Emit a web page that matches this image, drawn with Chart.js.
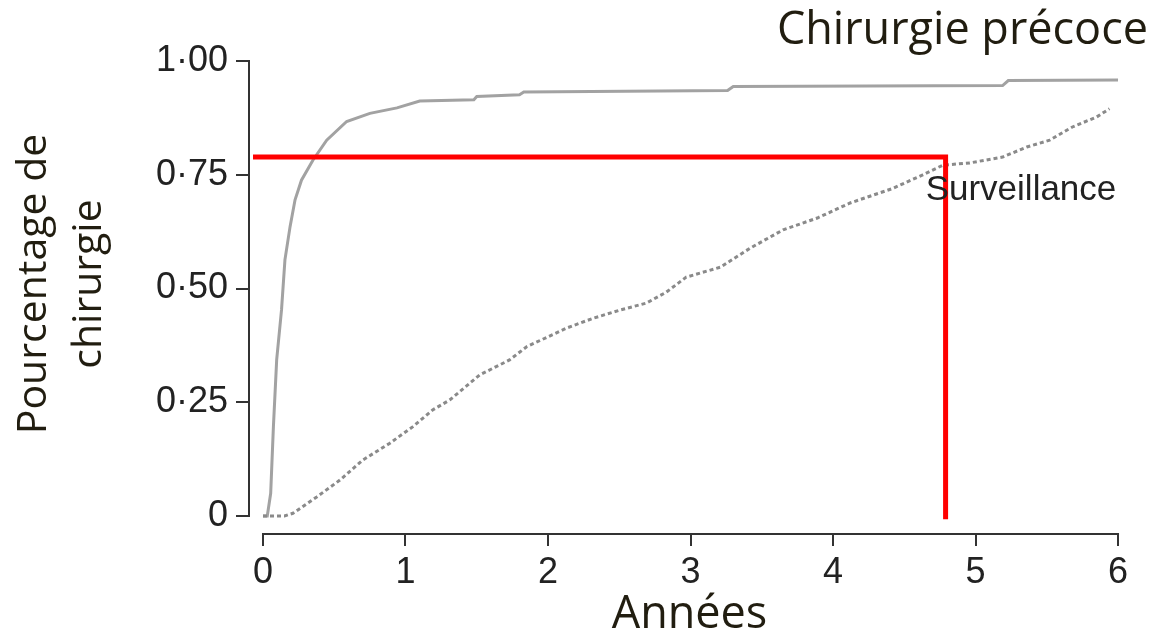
<!DOCTYPE html>
<html>
<head>
<meta charset="utf-8">
<script src="https://cdn.jsdelivr.net/npm/chart.js@4"></script>
<style>
  html, body { margin: 0; padding: 0; background: #ffffff; }
  #chart { display: block; }
</style>
</head>
<body>
<canvas id="chart" width="1155" height="635"></canvas>
<script>
// ================================================================
//  DATA
// ================================================================
const surgeryYears = [0, 0.03, 0.054, 0.073, 0.096, 0.13, 0.154, 0.19, 0.225, 0.27, 0.35, 0.447, 0.587, 0.75, 0.94, 1.1, 1.48, 1.5, 1.8, 1.83, 3.26, 3.3, 5.19, 5.23, 6.0];
const surgeryRate  = [0, 0, 0.05, 0.196, 0.343, 0.453, 0.563, 0.636, 0.695, 0.738, 0.782, 0.826, 0.867, 0.885, 0.897, 0.912, 0.915, 0.922, 0.926, 0.932, 0.935, 0.944, 0.946, 0.957, 0.958];

const watchYears = [0, 0.15, 0.21, 0.377, 0.54, 0.70, 0.89, 1.05, 1.19, 1.31, 1.52, 1.73, 1.85, 2.13, 2.32, 2.51, 2.69, 2.83, 2.97, 3.21, 3.42, 3.65, 3.89, 4.12, 4.42, 4.63, 4.77, 4.96, 5.19, 5.36, 5.52, 5.68, 5.85, 5.94];
const watchRate  = [0, 0, 0.006, 0.042, 0.079, 0.123, 0.16, 0.196, 0.233, 0.255, 0.31, 0.343, 0.372, 0.413, 0.435, 0.453, 0.468, 0.492, 0.525, 0.547, 0.589, 0.629, 0.655, 0.688, 0.72, 0.75, 0.771, 0.776, 0.789, 0.811, 0.826, 0.855, 0.877, 0.895];

// red reading guide
const guideYears = [-0.07, 4.79, 4.79];
const guideRate  = [0.789, 0.789, -0.007];

const xTicks = [0, 1, 2, 3, 4, 5, 6];
const xTickLabels = ['0', '1', '2', '3', '4', '5', '6'];
const yTicks = [0, 0.25, 0.5, 0.75, 1];
const yTickLabels = ['0', '0·25', '0·50', '0·75', '1·00'];
const yTitleLines = ['Pourcentage de', 'chirurgie'];

// ================================================================
//  SCALE RANGES
// ================================================================
const X_MIN = -0.0982, X_MAX = 6.084;
const Y_MIN = -0.0395, Y_MAX = 1.0198;

const TEXT_DARK = '#211d10';
const AXIS_COL = '#333333';
const tickFont = { family: '"Liberation Sans", Arial, sans-serif', size: 36 };

const toPoints = (xs, ys) => xs.map((x, i) => ({ x: x, y: ys[i] }));

// axis lines only span the tick range, plus the free text labels
const detachedAxes = {
  id: 'detachedAxes',
  afterDraw(chart) {
    const { ctx, chartArea, scales: { x, y } } = chart;
    ctx.save();
    ctx.strokeStyle = AXIS_COL;
    ctx.lineWidth = 2;
    ctx.lineCap = 'square';
    ctx.beginPath();
    ctx.moveTo(x.getPixelForValue(xTicks[0]), chartArea.bottom);
    ctx.lineTo(x.getPixelForValue(xTicks[xTicks.length - 1]), chartArea.bottom);
    ctx.moveTo(chartArea.left, y.getPixelForValue(yTicks[0]));
    ctx.lineTo(chartArea.left, y.getPixelForValue(yTicks[yTicks.length - 1]));
    ctx.stroke();

    // series label
    ctx.fillStyle = '#222222';
    ctx.font = '35px "Liberation Sans", Arial, sans-serif';
    ctx.textAlign = 'left';
    ctx.textBaseline = 'alphabetic';
    ctx.fillText('Surveillance', x.getPixelForValue(4.65), y.getPixelForValue(0.695));

    // slide heading
    ctx.fillStyle = TEXT_DARK;
    ctx.font = '45px "Open Sans", sans-serif';
    ctx.textAlign = 'right';
    ctx.textBaseline = 'middle';
    ctx.fillText('Chirurgie précoce', chart.width - 7, 31);

    // y title, two rotated lines
    ctx.font = '41px "Open Sans", sans-serif';
    ctx.textAlign = 'center';
    yTitleLines.forEach((line, i) => {
      ctx.save();
      ctx.translate(34.5 + i * 55, 284);
      ctx.rotate(-Math.PI / 2);
      ctx.fillText(line, 0, 0);
      ctx.restore();
    });
    ctx.restore();
  }
};

new Chart(document.getElementById('chart').getContext('2d'), {
  type: 'line',
  data: {
    datasets: [
      {
        label: 'Repère', data: toPoints(guideYears, guideRate),
        borderColor: '#ff0000', borderWidth: 5, borderCapStyle: 'butt',
        pointRadius: 0, tension: 0, order: 0
      },
      {
        label: 'Chirurgie précoce', data: toPoints(surgeryYears, surgeryRate),
        borderColor: '#a2a2a2', borderWidth: 3,
        pointRadius: 0, tension: 0, order: 2
      },
      {
        label: 'Surveillance', data: toPoints(watchYears, watchRate),
        borderColor: '#8a8a8a', borderWidth: 3, borderDash: [4, 3],
        pointRadius: 0, tension: 0, order: 1
      }
    ]
  },
  options: {
    responsive: false,
    animation: false,
    layout: { padding: { top: 52, right: 25, left: 0, bottom: 0 } },
    plugins: { legend: { display: false }, tooltip: { enabled: false } },
    scales: {
      x: {
        type: 'linear', min: X_MIN, max: X_MAX,
        afterBuildTicks: s => { s.ticks = xTicks.map(v => ({ value: v })); },
        afterFit: s => { s.height = 101; },
        grid: { drawOnChartArea: false, drawTicks: true, tickLength: 12, color: AXIS_COL, lineWidth: 2 },
        border: { display: false },
        ticks: { callback: (v, i) => xTickLabels[i], font: tickFont, color: '#222222', padding: 5, maxRotation: 0, autoSkip: false },
        title: {
          display: true, text: 'Années', color: TEXT_DARK,
          font: { family: '"Open Sans", sans-serif', size: 45, lineHeight: 0.82 },
          padding: { top: 0, bottom: 1 }
        }
      },
      y: {
        type: 'linear', min: Y_MIN, max: Y_MAX,
        afterBuildTicks: s => { s.ticks = yTicks.map(v => ({ value: v })); },
        afterFit: s => { s.width = 249; },
        grid: { drawOnChartArea: false, drawTicks: true, tickLength: 13, color: AXIS_COL, lineWidth: 2 },
        border: { display: false },
        ticks: { callback: (v, i) => yTickLabels[i], font: tickFont, color: '#222222', padding: 8 }
      }
    }
  },
  plugins: [detachedAxes]
});
</script>
</body>
</html>
